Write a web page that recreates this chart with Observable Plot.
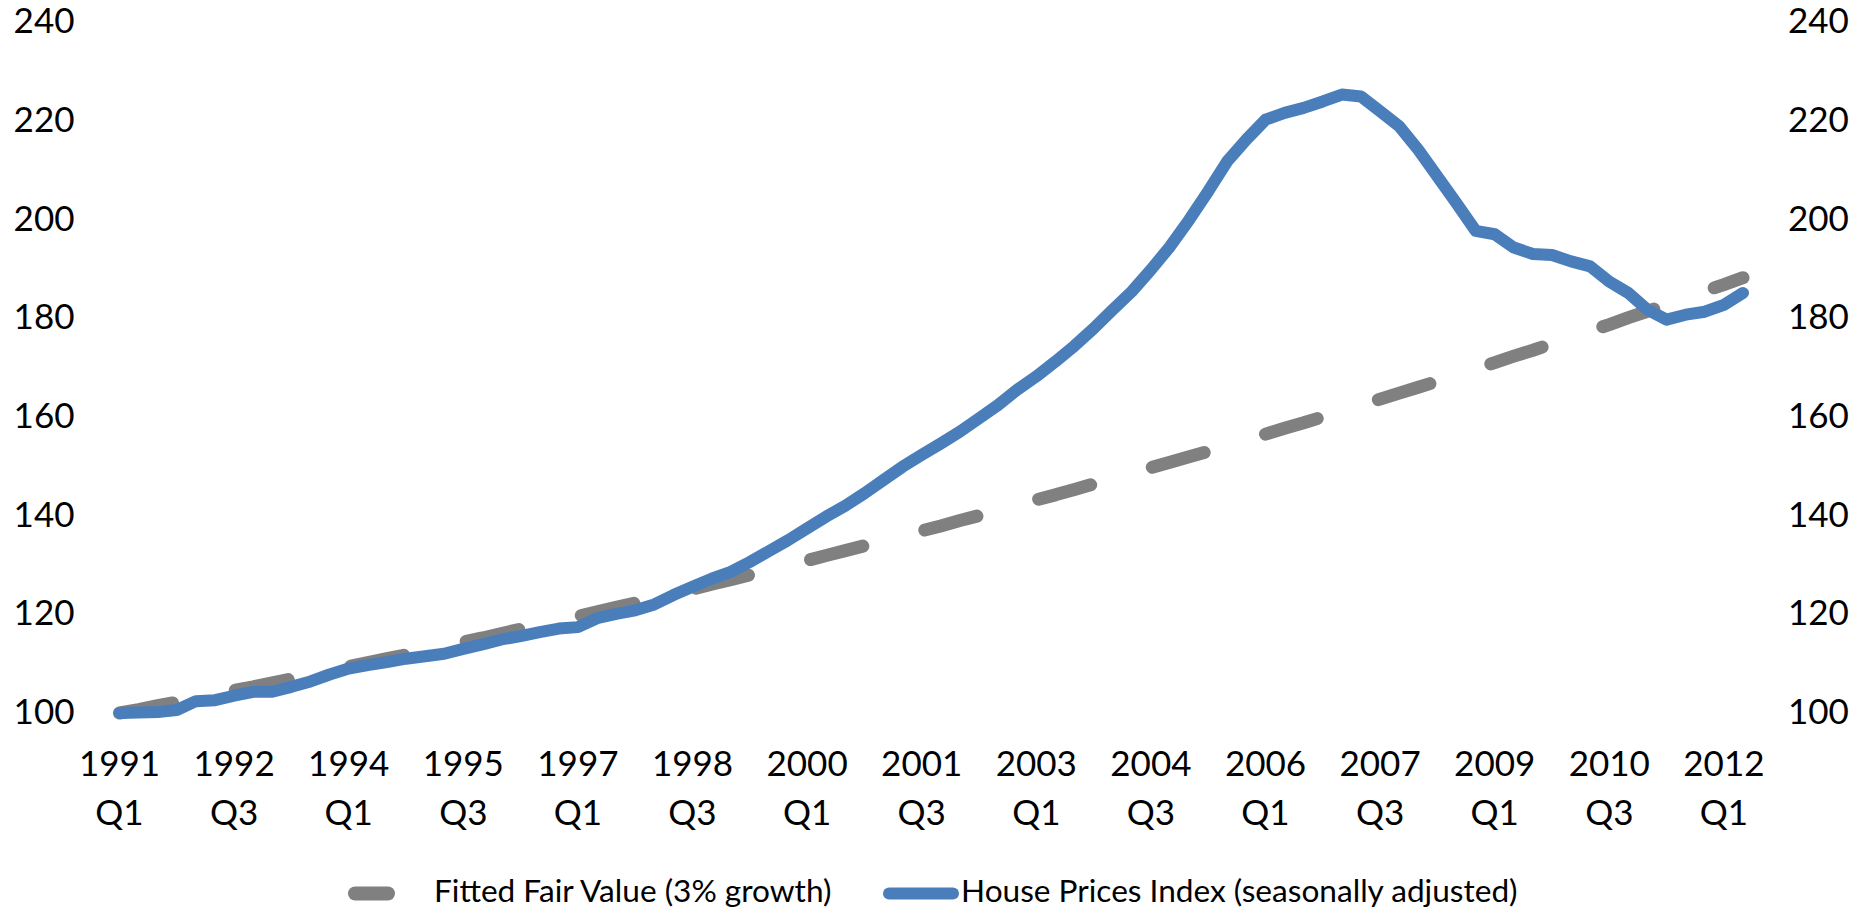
<!DOCTYPE html>
<html>
<head>
<meta charset="utf-8">
<script src="https://cdn.jsdelivr.net/npm/d3@7"></script>
<script src="https://cdn.jsdelivr.net/npm/@observablehq/plot@0.6"></script>
<style>
  html, body { margin: 0; padding: 0; background: #fff; }
  body { font-family: Lato, "Open Sans", sans-serif; }
  #chart svg, #legend svg { display: block; }
</style>
</head>
<body>
<div id="chart"></div>
<div id="legend"></div>
<script>
// ---- Data ----
const startYear = 1991;
const quarterCount = 86; // 1991 Q1 .. 2012 Q2
const seriesNames = ["Fitted Fair Value (3% growth)", "House Prices Index (seasonally adjusted)"];

const fairValue = [
  100.0, 100.7, 101.5, 102.2, 103.0, 103.8, 104.6, 105.3, 106.1, 106.9,
  107.7, 108.5, 109.4, 110.2, 111.0, 111.8, 112.7, 113.5, 114.4, 115.2,
  116.1, 117.0, 117.9, 118.7, 119.6, 120.5, 121.4, 122.3, 123.3, 124.2,
  125.1, 126.1, 127.0, 128.0, 128.9, 129.9, 130.9, 131.9, 132.9, 133.9,
  134.9, 135.9, 136.9, 137.9, 139.0, 140.0, 141.1, 142.1, 143.2, 144.2,
  145.3, 146.4, 147.5, 148.6, 149.7, 150.8, 151.9, 153.0, 154.2, 155.3,
  156.5, 157.7, 158.8, 160.0, 161.2, 162.4, 163.6, 164.8, 166.0, 167.2,
  168.5, 169.7, 171.0, 172.3, 173.5, 174.8, 176.1, 177.4, 178.7, 180.1,
  181.4, 182.7, 184.1, 185.5, 186.8, 188.2
];

const housePrices = [
  100.0, 100.1, 100.2, 100.6, 102.4, 102.6, 103.5, 104.3, 104.3, 105.3,
  106.4, 107.8, 109.0, 109.7, 110.3, 111.0, 111.5, 112.0, 113.0, 113.9,
  114.9, 115.6, 116.4, 117.1, 117.4, 119.2, 120.1, 120.8, 122.0, 123.9,
  125.6, 127.2, 128.6, 130.6, 132.8, 135.0, 137.4, 139.8, 142.0, 144.5,
  147.2, 149.9, 152.3, 154.6, 157.0, 159.7, 162.4, 165.5, 168.2, 171.2,
  174.4, 177.9, 181.7, 185.4, 189.8, 194.5, 199.9, 205.7, 211.8, 216.2,
  220.2, 221.6, 222.6, 223.9, 225.3, 224.9, 221.9, 218.9, 214.1, 208.7,
  203.3, 197.7, 197.0, 194.3, 193.0, 192.8, 191.5, 190.5, 187.4, 185.1,
  181.7, 179.7, 180.7, 181.3, 182.7, 185.1
];

const yTicks = [100, 120, 140, 160, 180, 200, 220, 240];
const tickEvery = 6; // quarters between x labels

// ---- Categories (quarters) ----
const quarterYears = [];
const quarterNames = [];
for (let i = 0; i < quarterCount; i++) {
  quarterYears.push(String(startYear + Math.floor(i / 4)));
  quarterNames.push("Q" + ((i % 4) + 1));
}
const xTicks = d3.range(0, quarterCount, tickEvery);

const rows = quarterYears.map((y, i) => ({
  i, label: y + " " + quarterNames[i], fair: fairValue[i], hpi: housePrices[i]
}));

// ---- Chart ----
const W = 1864, H = 866;
const plotTop = 21.5, plotBottom = 712.5;
const chart = Plot.plot({
  width: W,
  height: H,
  marginLeft: 119,
  marginRight: 121.5,
  marginTop: plotTop,
  marginBottom: H - plotBottom,
  x: { domain: [0, quarterCount - 1], axis: null },
  y: { domain: [100, 240], axis: null },
  style: { fontFamily: "Lato, 'Open Sans', sans-serif", fontSize: "35px", color: "#000", background: "#fff", overflow: "visible" },
  marks: [
    Plot.axisY({ anchor: "left", ticks: yTicks, tickSize: 0, tickPadding: 45, label: null, fontSize: 35 }),
    Plot.axisY({ anchor: "right", ticks: yTicks, tickSize: 0, tickPadding: 45, label: null, fontSize: 35 }),
    Plot.axisX({ anchor: "bottom", ticks: xTicks, tickFormat: i => quarterYears[i], tickSize: 0, tickPadding: 38, label: null, fontSize: 35 }),
    Plot.axisX({ anchor: "bottom", ticks: xTicks, tickFormat: i => quarterNames[i], tickSize: 0, tickPadding: 87, label: null, fontSize: 35 }),
    Plot.line(rows, { x: "i", y: "fair", stroke: "#808080", strokeWidth: 13, strokeDasharray: "54,64", strokeLinecap: "round", strokeLinejoin: "round" }),
    Plot.line(rows, { x: "i", y: "hpi", stroke: "#4a7ebb", strokeWidth: 12, strokeLinecap: "round", strokeLinejoin: "round" })
  ]
});
document.getElementById("chart").appendChild(chart);

// ---- Legend (below the chart) ----
const LH = 912 - H;
const leg = d3.select("#legend").append("svg").attr("width", W).attr("height", LH);
const swY = 893.5 - H, baseY = 902 - H;
leg.append("line").attr("x1", 355).attr("x2", 388).attr("y1", swY).attr("y2", swY)
  .attr("stroke", "#808080").attr("stroke-width", 14).attr("stroke-linecap", "round");
leg.append("text").attr("x", 434).attr("y", baseY).text(seriesNames[0])
  .attr("font-family", "Lato, 'Open Sans', sans-serif").attr("font-size", 31.6).attr("fill", "#000");
leg.append("line").attr("x1", 889).attr("x2", 953).attr("y1", swY).attr("y2", swY)
  .attr("stroke", "#4a7ebb").attr("stroke-width", 12).attr("stroke-linecap", "round");
leg.append("text").attr("x", 961).attr("y", baseY).text(seriesNames[1])
  .attr("font-family", "Lato, 'Open Sans', sans-serif").attr("font-size", 31.6).attr("fill", "#000");
</script>
</body>
</html>
